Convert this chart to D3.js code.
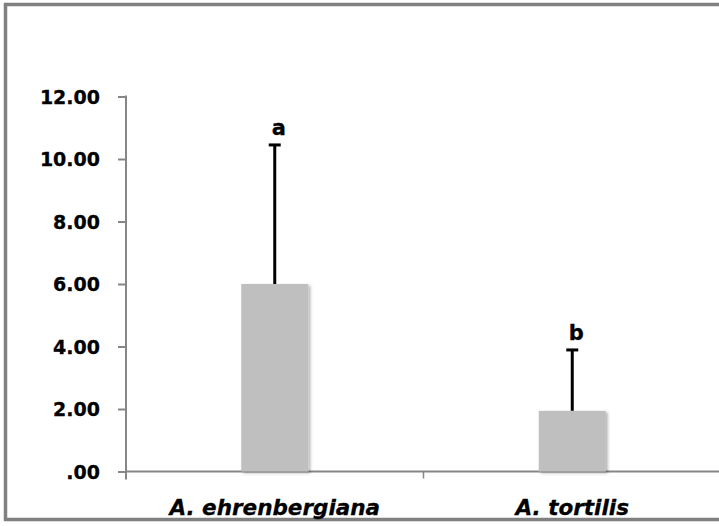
<!DOCTYPE html>
<html>
<head>
<meta charset="utf-8">
<script src="https://cdn.jsdelivr.net/npm/d3@7"></script>
<style>
  body { margin: 0; background: #fff; }
  svg text { font-family: "DejaVu Sans", sans-serif; font-weight: bold; fill: #000; stroke: #000; stroke-width: 0.3px; }
</style>
</head>
<body>
<svg class="bar-chart"></svg>
<script>
// values
const species = ["A. ehrenbergiana", "A. tortilis"];
const means = [6.0, 1.94];
const errors = [4.45, 1.95];
const letters = ["a", "b"];
const yTicks = [0, 2, 4, 6, 8, 10, 12];

const W = 719, H = 526;
const margin = {top: 96.5, right: -2, bottom: 54.5, left: 126};
var width = W - margin.left - margin.right;
var height = H - margin.top - margin.bottom;

var svg = d3.select(".bar-chart")
  .attr("width", W)
  .attr("height", H);

// outer frame
svg.append("rect")
  .attr("x", 5.5).attr("y", 4.5)
  .attr("width", 730).attr("height", 515)
  .attr("fill", "none")
  .attr("stroke", "#808080")
  .attr("stroke-width", 3.5);

var defs = svg.append("defs");
var shadow = defs.append("filter").attr("id", "shadow")
  .attr("x", "-10%").attr("y", "-10%").attr("width", "130%").attr("height", "130%");
shadow.append("feDropShadow")
  .attr("dx", 2).attr("dy", 1.5).attr("stdDeviation", 1.8)
  .attr("flood-color", "#000").attr("flood-opacity", 0.3);

var g = svg.append("g")
  .attr("transform", "translate(" + margin.left + "," + margin.top + ")");

const yScale = d3.scaleLinear().domain([0, 12]).range([height, 0]);
const xScale = d3.scaleBand().domain(species).range([0, width]).paddingInner(0).paddingOuter(0);
const barW = 67;

// y axis
var yAxis = g.append("g")
  .attr("class", "yaxis")
  .call(d3.axisLeft(yScale).tickValues(yTicks).tickSize(8).tickPadding(18)
    .tickFormat(d => d === 0 ? ".00" : d3.format(".2f")(d)));
yAxis.select(".domain").remove();
yAxis.selectAll(".tick line").attr("stroke", "#868686").attr("stroke-width", 2);
yAxis.selectAll(".tick text").style("font-size", "19px").attr("dy", "0.36em");
g.append("line")
  .attr("x1", 0).attr("x2", 0)
  .attr("y1", yScale(12) - 1).attr("y2", height + 8)
  .attr("stroke", "#868686").attr("stroke-width", 2);

// x axis
g.append("line")
  .attr("x1", 0).attr("x2", width)
  .attr("y1", height).attr("y2", height)
  .attr("stroke", "#868686").attr("stroke-width", 2);
g.selectAll(".xtick")
  .data(species.slice(1))
  .enter().append("line")
  .attr("class", "xtick")
  .attr("x1", d => xScale(d)).attr("x2", d => xScale(d))
  .attr("y1", height).attr("y2", height + 7)
  .attr("stroke", "#868686").attr("stroke-width", 1.5);
g.selectAll(".xlabel")
  .data(species)
  .enter().append("text")
  .attr("class", "xlabel")
  .attr("x", d => xScale(d) + xScale.bandwidth() / 2)
  .attr("y", height + 43)
  .attr("text-anchor", "middle")
  .style("font-size", "21.5px")
  .style("font-style", "italic")
  .text(d => d);

// error bars (drawn first so bars sit on top)
species.forEach((s, i) => {
  var cx = xScale(s) + xScale.bandwidth() / 2;
  g.append("line")
    .attr("x1", cx).attr("x2", cx)
    .attr("y1", yScale(means[i])).attr("y2", yScale(means[i] + errors[i]))
    .attr("stroke", "#000").attr("stroke-width", 3);
  g.append("line")
    .attr("x1", cx - 6).attr("x2", cx + 6)
    .attr("y1", yScale(means[i] + errors[i])).attr("y2", yScale(means[i] + errors[i]))
    .attr("stroke", "#000").attr("stroke-width", 3);
  g.append("text")
    .attr("x", cx + 4)
    .attr("y", yScale(means[i] + errors[i]) - 10)
    .attr("text-anchor", "middle")
    .style("font-size", "21px")
    .text(letters[i]);
});

// bars
g.selectAll(".bar")
  .data(species)
  .enter().append("rect")
  .attr("class", "bar")
  .attr("x", d => xScale(d) + xScale.bandwidth() / 2 - barW / 2)
  .attr("y", (d, i) => yScale(means[i]))
  .attr("width", barW)
  .attr("height", (d, i) => height - yScale(means[i]))
  .attr("fill", "#bfbfbf")
  .attr("filter", "url(#shadow)");
</script>
</body>
</html>
